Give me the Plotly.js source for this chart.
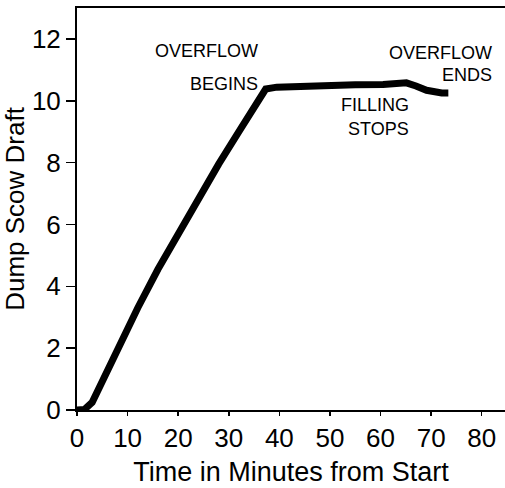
<!DOCTYPE html>
<html>
<head>
<meta charset="utf-8">
<script src="https://cdn.plot.ly/plotly-3.0.1.min.js"></script>
<style>html,body{margin:0;padding:0;background:#fff;}#chart{width:505px;height:488px;}</style>
</head>
<body>
<div id="chart"></div>
<script>
const timeMin = [0, 1.5, 3.0, 4.5, 8, 12, 16, 20, 24, 28, 32, 36.2, 37.3, 39.5, 47.4, 55, 60.5, 63, 65.1, 67, 69.1, 72.1, 73.4];
const draft   = [0, 0.02, 0.25, 0.78, 1.95, 3.3, 4.55, 5.7, 6.85, 7.95, 9.0, 10.12, 10.38, 10.44, 10.5, 10.52, 10.53, 10.53, 10.58, 10.48, 10.34, 10.25, 10.25];
const xTicks = [0, 10, 20, 30, 40, 50, 60, 70, 80];
const yTicks = [0, 2, 4, 6, 8, 10, 12];
const labelTexts = ["OVERFLOW", "BEGINS", "OVERFLOW", "ENDS", "FILLING", "STOPS"];
const labelX = [36.2, 36.2, 82.4, 82.4, 66.0, 66.0];
const labelY = [11.60, 10.55, 11.55, 10.82, 9.85, 9.10];

const FONT = '"Liberation Sans", Arial, sans-serif';

const annotations = labelTexts.map((t, i) => ({
  x: labelX[i], y: labelY[i], xref: 'x', yref: 'y', text: t, showarrow: false,
  xanchor: 'right', yanchor: 'middle', font: {family: FONT, size: 18, color: '#000'}
}));

Plotly.newPlot('chart', [{
  x: timeMin, y: draft, type: 'scatter', mode: 'lines',
  line: {color: '#000', width: 7},
  hoverinfo: 'skip'
}], {
  width: 505, height: 488,
  margin: {l: 77, r: 0, t: 8, b: 78},
  paper_bgcolor: '#fff', plot_bgcolor: '#fff',
  showlegend: false,
  font: {family: FONT, color: '#000'},
  xaxis: {
    range: [0, 84.6], tickvals: xTicks, ticktext: xTicks.map(String),
    showgrid: false, zeroline: false, showline: true, linecolor: '#000', linewidth: 2,
    mirror: true, ticks: 'outside', ticklen: 4, tickwidth: 1.5, tickcolor: '#000',
    tickfont: {family: FONT, size: 26, color: '#000'},
    title: {text: 'Time in Minutes from Start', font: {family: FONT, size: 27, color: '#000'}, standoff: 10}
  },
  yaxis: {
    range: [0, 13], tickvals: yTicks, ticktext: yTicks.map(String),
    showgrid: false, zeroline: false, showline: true, linecolor: '#000', linewidth: 2,
    ticks: 'outside', ticklen: 9, tickwidth: 1.5, tickcolor: '#000',
    tickfont: {family: FONT, size: 26, color: '#000'},
    title: {text: 'Dump Scow Draft', font: {family: FONT, size: 26, color: '#000'}, standoff: 6}
  },
  annotations: annotations
}, {staticPlot: true, displayModeBar: false});
</script>
</body>
</html>
